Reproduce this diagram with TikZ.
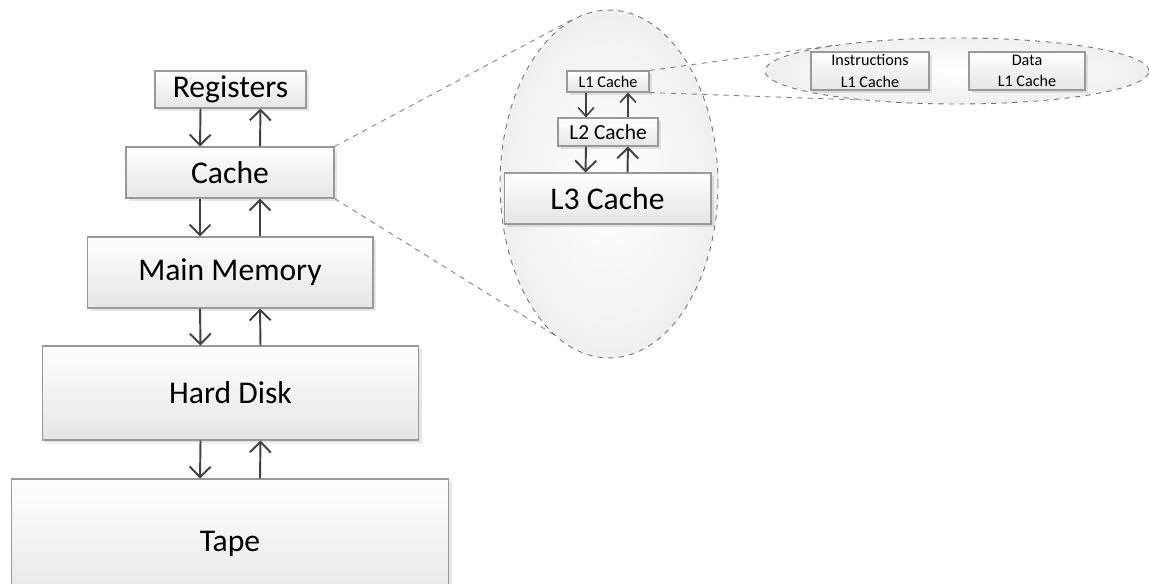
\documentclass[tikz,border=0pt]{standalone}
\usepackage{fontspec}
\setmainfont{Carlito}
\usetikzlibrary{arrows.meta,shapes.geometric,shadows}

\tikzset{
  level/.style={draw=black!40, line width=0.6pt, inner sep=0pt, top color=white, bottom color=black!10,
    drop shadow={opacity=0.2, shadow xshift=1.5pt, shadow yshift=-1.5pt}},
  zoomell/.style={ellipse, draw=black!55, dashed, line width=0.5pt, inner sep=0pt,
    inner color=white, outer color=black!6},
  zoomline/.style={draw=black!50, dashed, line width=0.5pt},
  arr/.style={-{Straight Barb[length=6pt,width=12pt]}, line width=1.1pt, draw=black!75},
  arrsmall/.style={-{Straight Barb[length=5pt,width=9pt]}, line width=0.9pt, draw=black!75}
}

\begin{document}
\begin{tikzpicture}[x=0.02cm,y=-0.02cm]
  \useasboundingbox (0,0) rectangle (1149,584);
  % zoomed views
  \node[zoomell, minimum width=4.36cm, minimum height=6.96cm] (big) at (609,184) {};
  \node[zoomell, minimum width=7.68cm, minimum height=1.32cm] (split) at (957,71) {};
  % memory hierarchy
  \node[level, minimum width=3.02cm, minimum height=0.74cm, font=\fontsize{18}{22}\selectfont] (reg) at (230.5,89.5) {Registers};
  \node[level, minimum width=4.16cm, minimum height=1.02cm, font=\fontsize{18}{22}\selectfont] (cache) at (230,172.5) {Cache};
  \node[level, minimum width=5.72cm, minimum height=1.42cm, font=\fontsize{18}{22}\selectfont] (mem) at (230,272.5) {Main Memory};
  \node[level, minimum width=7.54cm, minimum height=1.88cm, font=\fontsize{18}{22}\selectfont] (disk) at (230.5,393) {Hard Disk};
  \node[level, minimum width=8.76cm, minimum height=2.6cm, font=\fontsize{18}{22}\selectfont] (tape) at (230,544) {Tape};
  \draw[arr] ([xshift=-0.6cm]reg.south) -- ([xshift=-0.6cm]cache.north);
  \draw[arr] ([xshift=0.6cm]cache.north) -- ([xshift=0.6cm]reg.south);
  \draw[arr] ([xshift=-0.6cm]cache.south) -- ([xshift=-0.6cm]mem.north);
  \draw[arr] ([xshift=0.6cm]mem.north) -- ([xshift=0.6cm]cache.south);
  \draw[arr] ([xshift=-0.6cm]mem.south) -- ([xshift=-0.6cm]disk.north);
  \draw[arr] ([xshift=0.6cm]disk.north) -- ([xshift=0.6cm]mem.south);
  \draw[arr] ([xshift=-0.6cm]disk.south) -- ([xshift=-0.6cm]tape.north);
  \draw[arr] ([xshift=0.6cm]tape.north) -- ([xshift=0.6cm]disk.south);
  \draw[zoomline] (cache.north east) -- (big.102);
  \draw[zoomline] (cache.south east) -- (big.250);
  % cache levels
  \node[level, minimum width=1.64cm, minimum height=0.42cm, font=\fontsize{9.3}{11}\selectfont] (l1) at (608,81.5) {L1 Cache};
  \node[level, minimum width=2cm, minimum height=0.56cm, font=\fontsize{12.2}{14}\selectfont] (l2) at (608,132) {L2 Cache};
  \node[level, minimum width=4.14cm, minimum height=1.02cm, font=\fontsize{18}{22}\selectfont] (l3) at (607.5,198.5) {L3 Cache};
  \draw[arrsmall] ([xshift=-0.44cm]l1.south) -- ([xshift=-0.44cm]l2.north);
  \draw[arrsmall] ([xshift=0.4cm]l2.north) -- ([xshift=0.4cm]l1.south);
  \draw[arr] ([xshift=-0.44cm]l2.south) -- ([xshift=-0.44cm]l3.north);
  \draw[arr] ([xshift=0.4cm]l3.north) -- ([xshift=0.4cm]l2.south);
  \draw[zoomline] (l1.north east) -- (split.168);
  \draw[zoomline] (l1.south east) -- (split.197);
  % split L1
  \node[level, minimum width=2.36cm, minimum height=0.76cm, align=center, font=\fontsize{9.2}{12}\selectfont] (ins) at (870,71) {Instructions\\L1 Cache};
  \node[level, minimum width=2.32cm, minimum height=0.76cm, align=center, font=\fontsize{9.2}{12}\selectfont] (dat) at (1027,71) {Data\\L1 Cache};
\end{tikzpicture}
\end{document}
